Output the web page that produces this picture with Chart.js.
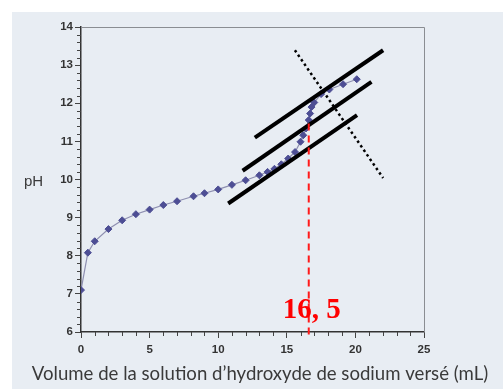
<!DOCTYPE html>
<html>
<head>
<meta charset="utf-8">
<script src="https://cdn.jsdelivr.net/npm/chart.js@4"></script>
<style>
  html, body { margin: 0; padding: 0; background: #ffffff; }
  canvas { display: block; }
</style>
</head>
<body>
<canvas id="courbe" width="503" height="389"></canvas>
<script>
// Dosage : volume de soude versé (mL) et pH mesuré
const volumes = [0, 0.5, 1, 2, 3, 4, 5, 6, 7, 8.2, 9, 10, 11, 12, 13, 13.6, 14.1, 14.6, 15.1, 15.6, 16, 16.2, 16.4, 16.6, 16.7, 16.8, 17, 17.5, 18.1, 19.1, 20.1];
const phValues = [7.1, 8.08, 8.38, 8.7, 8.93, 9.09, 9.21, 9.33, 9.43, 9.56, 9.64, 9.74, 9.86, 9.98, 10.11, 10.2, 10.28, 10.4, 10.55, 10.72, 10.99, 11.16, 11.34, 11.56, 11.73, 11.9, 12.02, 12.24, 12.36, 12.5, 12.63];

// Méthode des tangentes (volume, pH)
const tangenteHaut = [[12.67, 11.10], [22.02, 13.39]];
const tangenteMilieu = [[11.78, 10.23], [21.17, 12.56]];
const tangenteBas = [[10.73, 9.37], [20.12, 11.69]];
const perpendiculaire = [[15.59, 13.39], [22.02, 10.04]];

// Point d'équivalence
const volumeEquivalence = 16.6;
const phEquivalence = 11.47;
const labelEquivalence = "16, 5";

// Axes
const xTicks = [0, 5, 10, 15, 20, 25];
const yTicks = [6, 7, 8, 9, 10, 11, 12, 13, 14];
const xTitle = "Volume de la solution d’hydroxyde de sodium versé (mL)";
const yTitle = "pH";

const toPoints = arr => arr.map(p => ({ x: p[0], y: p[1] }));

// Fond + bordure + petites graduations + textes
const decor = {
  id: "decor",
  beforeDraw(chart) {
    const ctx = chart.ctx;
    ctx.save();
    ctx.fillStyle = "#ffffff";
    ctx.fillRect(0, 0, chart.width, chart.height);
    ctx.fillStyle = "#e8edf3";
    ctx.fillRect(12, 12, chart.width - 12, chart.height - 12);
    ctx.restore();
  },
  afterDraw(chart) {
    const ctx = chart.ctx;
    const { left, right, top, bottom } = chart.chartArea;
    const xs = chart.scales.x, ys = chart.scales.y;
    ctx.save();
    // cadre haut / droite
    ctx.strokeStyle = "#8a8d92";
    ctx.lineWidth = 1;
    ctx.beginPath();
    ctx.moveTo(left, top + 0.5);
    ctx.lineTo(right + 0.5, top + 0.5);
    ctx.lineTo(right + 0.5, bottom);
    ctx.stroke();
    // graduations secondaires
    ctx.strokeStyle = "#444";
    ctx.beginPath();
    for (let i = 0; i <= 40; i++) {
      if (i % 5 === 0) continue;
      const py = Math.round(ys.getPixelForValue(6 + i * 0.2)) + 0.5;
      ctx.moveTo(left - 4, py);
      ctx.lineTo(left, py);
    }
    for (let i = 0; i <= 25; i++) {
      if (i % 5 === 0) continue;
      const px = Math.round(xs.getPixelForValue(i)) + 0.5;
      ctx.moveTo(px, bottom);
      ctx.lineTo(px, bottom + 4);
    }
    ctx.stroke();
    // titres
    ctx.fillStyle = "#3a3a3a";
    ctx.font = "15px 'Liberation Sans'";
    ctx.textAlign = "left";
    ctx.textBaseline = "alphabetic";
    ctx.fillText(yTitle, 24, 186);
    ctx.font = "18.6px Lato";
    ctx.textAlign = "center";
    ctx.fillText(xTitle, 260, 380);
    // valeur du volume équivalent
    ctx.fillStyle = "#ff0000";
    ctx.font = "bold 29px 'Liberation Serif'";
    ctx.fillText(labelEquivalence, xs.getPixelForValue(volumeEquivalence) + 3, 318);
    ctx.restore();
  }
};

const ligne = (data, opts) => Object.assign({
  data: toPoints(data),
  showLine: true,
  borderColor: "#000000",
  borderWidth: 4,
  pointRadius: 0,
  fill: false
}, opts);

new Chart(document.getElementById("courbe"), {
  type: "scatter",
  data: {
    datasets: [
      {
        data: volumes.map((v, i) => ({ x: v, y: phValues[i] })),
        showLine: true,
        borderColor: "#8e8fb0",
        borderWidth: 1.2,
        pointStyle: "rectRot",
        pointRadius: 3.5,
        pointBackgroundColor: "#4d4e94",
        pointBorderColor: "#4d4e94",
        pointBorderWidth: 1,
        order: 3
      },
      ligne(tangenteHaut, { order: 1 }),
      ligne(tangenteMilieu, { order: 1 }),
      ligne(tangenteBas, { order: 1 }),
      ligne(perpendiculaire, { borderWidth: 2.5, borderDash: [2.5, 3], order: 1 }),
      ligne([[volumeEquivalence, phEquivalence], [volumeEquivalence, 5.85]], {
        borderColor: "#ff1a1a", borderWidth: 2, borderDash: [7, 5], clip: false, order: 0
      })
    ]
  },
  options: {
    responsive: false,
    animation: false,
    events: [],
    layout: { padding: { top: 27, right: 79, bottom: 0, left: 0 } },
    plugins: { legend: { display: false }, tooltip: { enabled: false } },
    scales: {
      x: {
        type: "linear",
        min: 0, max: 25,
        afterFit: s => { s.height = 57; },
        afterBuildTicks: s => { s.ticks = xTicks.map(v => ({ value: v })); },
        grid: { drawOnChartArea: false, drawTicks: true, tickLength: 6, color: "#444" },
        border: { display: true, color: "#333", width: 1.5 },
        ticks: { color: "#333", padding: 5, font: { family: "Liberation Sans", weight: "bold", size: 11.5 } }
      },
      y: {
        min: 6, max: 14,
        afterFit: s => { s.width = 81; },
        afterBuildTicks: s => { s.ticks = yTicks.map(v => ({ value: v })); },
        grid: { drawOnChartArea: false, drawTicks: true, tickLength: 6, color: "#444" },
        border: { display: true, color: "#333", width: 1.5 },
        ticks: { color: "#333", padding: 2, font: { family: "Liberation Sans", weight: "bold", size: 11.5 } }
      }
    }
  },
  plugins: [decor]
});
</script>
</body>
</html>
